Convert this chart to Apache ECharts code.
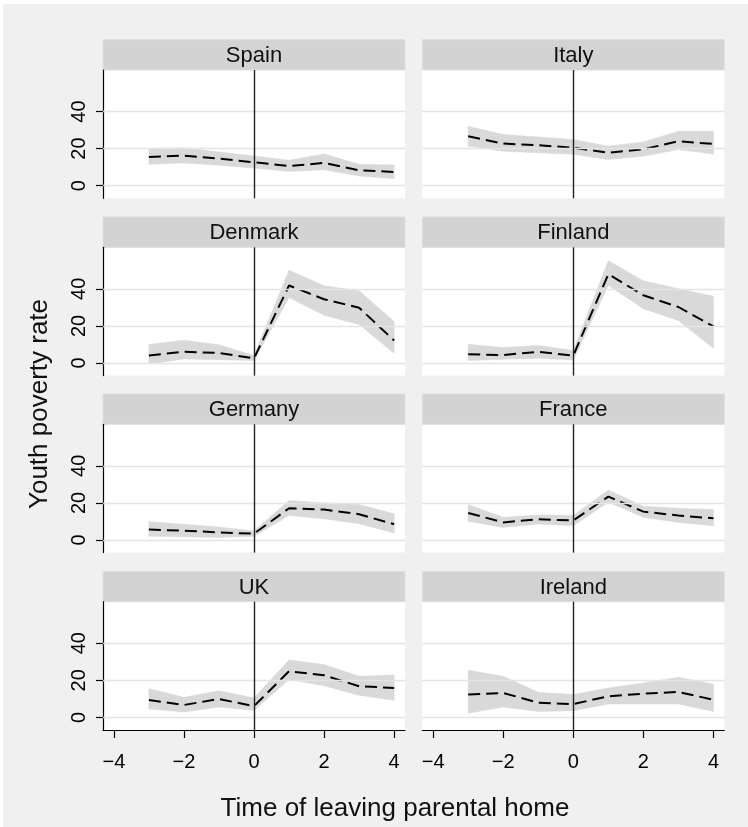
<!DOCTYPE html>
<html>
<head>
<meta charset="utf-8">
<script src="https://cdn.jsdelivr.net/npm/echarts@6/dist/echarts.min.js"></script>
<style>
html,body{margin:0;padding:0;background:#fff;}
#chart{width:748px;height:827px;}
</style>
</head>
<body>
<div id="chart"></div>
<script>
// ---- data ----
const years = [-3, -2, -1, 0, 1, 2, 3, 4];
const countries = ['Spain', 'Italy', 'Denmark', 'Finland', 'Germany', 'France', 'UK', 'Ireland'];
const xTicks = [-4, -2, 0, 2, 4];
const yTicks = [0, 20, 40];

const spainMean = [15.5, 16.2, 14.6, 12.6, 10.6, 12.3, 8.3, 7.4];
const spainLow  = [11.5, 12.3, 11.0, 9.5, 7.7, 8.6, 5.2, 3.8];
const spainHigh = [20.0, 20.4, 18.2, 16.0, 13.7, 17.1, 11.5, 11.2];

const italyMean = [26.7, 22.7, 21.8, 20.5, 17.8, 19.6, 24.0, 22.5];
const italyLow  = [21.4, 18.6, 17.8, 16.9, 14.1, 15.9, 19.5, 17.1];
const italyHigh = [32.0, 27.6, 26.3, 24.9, 21.3, 23.6, 29.4, 29.4];

const denmarkMean = [4.0, 6.1, 5.4, 2.5, 41.8, 34.4, 29.8, 12.1];
const denmarkLow  = [-0.5, 2.2, 1.8, 1.4, 35.3, 25.7, 20.8, 5.2];
const denmarkHigh = [10.0, 12.3, 9.8, 4.0, 50.0, 41.6, 38.9, 22.4];

const finlandMean = [4.7, 4.3, 6.0, 4.0, 47.9, 36.5, 30.2, 19.7];
const finlandLow  = [1.3, 2.0, 2.5, 1.6, 41.9, 29.3, 22.9, 7.9];
const finlandHigh = [10.1, 8.3, 9.4, 6.7, 55.2, 44.3, 40.1, 36.0];

const germanyMean = [5.6, 5.0, 4.1, 3.4, 17.1, 16.4, 13.9, 8.5];
const germanyLow  = [2.0, 1.8, 1.4, 2.0, 13.2, 11.4, 8.8, 3.8];
const germanyHigh = [9.9, 8.5, 7.0, 4.9, 21.3, 20.0, 19.1, 14.1];

const franceMean = [14.6, 9.5, 11.2, 10.5, 23.4, 15.3, 13.2, 11.7];
const franceLow  = [10.1, 6.8, 8.6, 7.7, 20.4, 12.3, 9.5, 7.7];
const franceHigh = [19.1, 12.3, 13.5, 13.2, 27.0, 18.2, 17.1, 16.4];

const ukMean = [9.4, 6.7, 9.9, 6.1, 24.9, 22.7, 16.8, 15.9];
const ukLow  = [4.5, 2.9, 5.6, 3.8, 20.4, 17.1, 11.9, 9.2];
const ukHigh = [15.5, 10.8, 14.4, 10.5, 31.0, 28.5, 22.2, 22.9];

const irelandMean = [12.3, 13.2, 7.9, 7.2, 11.4, 12.8, 13.7, 9.5];
const irelandLow  = [2.3, 5.6, 3.2, 3.6, 7.2, 7.2, 7.2, 3.2];
const irelandHigh = [25.4, 22.2, 13.5, 12.3, 15.9, 18.6, 21.6, 18.0];

const means = [spainMean, italyMean, denmarkMean, finlandMean, germanyMean, franceMean, ukMean, irelandMean];
const lows  = [spainLow, italyLow, denmarkLow, finlandLow, germanyLow, franceLow, ukLow, irelandLow];
const highs = [spainHigh, italyHigh, denmarkHigh, finlandHigh, germanyHigh, franceHigh, ukHigh, irelandHigh];

// ---- layout ----
const FONT = 'Liberation Sans, Arial, Helvetica, sans-serif';
const colLeft = [103, 422.3];
const plotW = 302;
const rowTop = [70, 247.3, 424.3, 601.7];
const plotH = 128.3;
const headH = 30.3;

const grids = [], xAxes = [], yAxes = [], series = [], graphics = [];

graphics.push({type: 'rect', shape: {x: 0, y: 0, width: 3, height: 827}, style: {fill: '#fff'}, silent: true});
graphics.push({type: 'rect', shape: {x: 0, y: 0, width: 748, height: 4}, style: {fill: '#fff'}, silent: true});

function makeBandRenderer(low, high) {
  return function (params, api) {
    if (params.dataIndex !== 0) return null;
    const pts = [];
    for (let k = 0; k < years.length; k++) pts.push(api.coord([years[k], high[k]]));
    for (let k = years.length - 1; k >= 0; k--) pts.push(api.coord([years[k], low[k]]));
    return {type: 'polygon', shape: {points: pts}, style: {fill: '#d9d9d9', stroke: '#d6d6d6', lineWidth: 0.5}, silent: true};
  };
}

countries.forEach((name, i) => {
  const r = Math.floor(i / 2), c = i % 2;
  const left = colLeft[c], top = rowTop[r];
  const bottomRow = r === 3, leftCol = c === 0;
  grids.push({left: left, top: top, width: plotW, height: plotH, backgroundColor: '#fff', show: true, borderWidth: 0, containLabel: false});
  xAxes.push({
    type: 'value', gridIndex: i, min: -4.31, max: 4.31,
    axisLine: {show: bottomRow, onZero: false, lineStyle: {color: '#000', width: 1.2}},
    axisTick: {show: bottomRow, customValues: xTicks, length: 8, lineStyle: {color: '#000', width: 1.2}},
    axisLabel: {show: bottomRow, customValues: xTicks, margin: 22, fontSize: 20, color: '#000', fontFamily: FONT,
      formatter: v => String(v).replace('-', '\u2212')},
    splitLine: {show: false}
  });
  yAxes.push({
    type: 'value', gridIndex: i, min: -6.8, max: 62.4,
    axisLine: {show: leftCol, onZero: false, lineStyle: {color: '#000', width: 1.2}},
    axisTick: {show: leftCol, customValues: yTicks, length: 7, lineStyle: {color: '#000', width: 1.2}},
    axisLabel: {show: leftCol, customValues: yTicks, rotate: 90, margin: 14, fontSize: 20, color: '#000', fontFamily: FONT},
    splitLine: {show: false}
  });
  const low = lows[i], high = highs[i], mean = means[i];
  // gridlines (invisible carrier series)
  series.push({
    type: 'line', xAxisIndex: i, yAxisIndex: i,
    data: years.map((x, k) => [x, low[k]]),
    showSymbol: false, symbol: 'none', lineStyle: {opacity: 0}, silent: true, z: 1,
    markLine: {
      silent: true, symbol: 'none', label: {show: false},
      lineStyle: {type: 'solid', color: '#e4e4e4', width: 1.3},
      emphasis: {disabled: true},
      data: yTicks.map(v => ({yAxis: v}))
    }
  });
  // confidence band
  series.push({
    type: 'custom', xAxisIndex: i, yAxisIndex: i, z: 2, silent: true,
    data: years.map((x, k) => [x, low[k], high[k]]),
    encode: {x: 0, y: [1, 2]},
    renderItem: makeBandRenderer(low, high)
  });
  // mean line + vertical reference line
  series.push({
    type: 'line', xAxisIndex: i, yAxisIndex: i,
    data: years.map((x, k) => [x, mean[k]]),
    showSymbol: false, symbol: 'none', silent: true, z: 4,
    lineStyle: {color: '#000', width: 2, type: [12, 6]},
    markLine: {
      silent: true, symbol: 'none', label: {show: false},
      lineStyle: {type: 'solid', color: '#222', width: 1.4},
      emphasis: {disabled: true},
      data: [{xAxis: 0}]
    }
  });
  // header strip
  graphics.push({type: 'rect', shape: {x: left, y: top - headH, width: plotW, height: headH},
    style: {fill: '#d3d3d3', stroke: '#d6e1e8', lineWidth: 1}, silent: true});
  graphics.push({type: 'text', x: left + plotW / 2, y: top - headH / 2 + 1,
    style: {text: name, fontSize: 22, fontFamily: FONT, fill: '#111', align: 'center', verticalAlign: 'middle'}, silent: true});
});

graphics.push({type: 'text', x: 40, y: 404, rotation: Math.PI / 2,
  style: {text: 'Youth poverty rate', fontSize: 26, fontFamily: FONT, fill: '#111', align: 'center', verticalAlign: 'middle'}, silent: true});
graphics.push({type: 'text', x: 395, y: 809,
  style: {text: 'Time of leaving parental home', fontSize: 26, fontFamily: FONT, fill: '#111', align: 'center', verticalAlign: 'middle'}, silent: true});

const chart = echarts.init(document.getElementById('chart'), null, {renderer: 'canvas'});
chart.setOption({
  backgroundColor: '#f0f0f0',
  animation: false,
  grid: grids,
  xAxis: xAxes,
  yAxis: yAxes,
  series: series,
  graphic: graphics
});
</script>
</body>
</html>
